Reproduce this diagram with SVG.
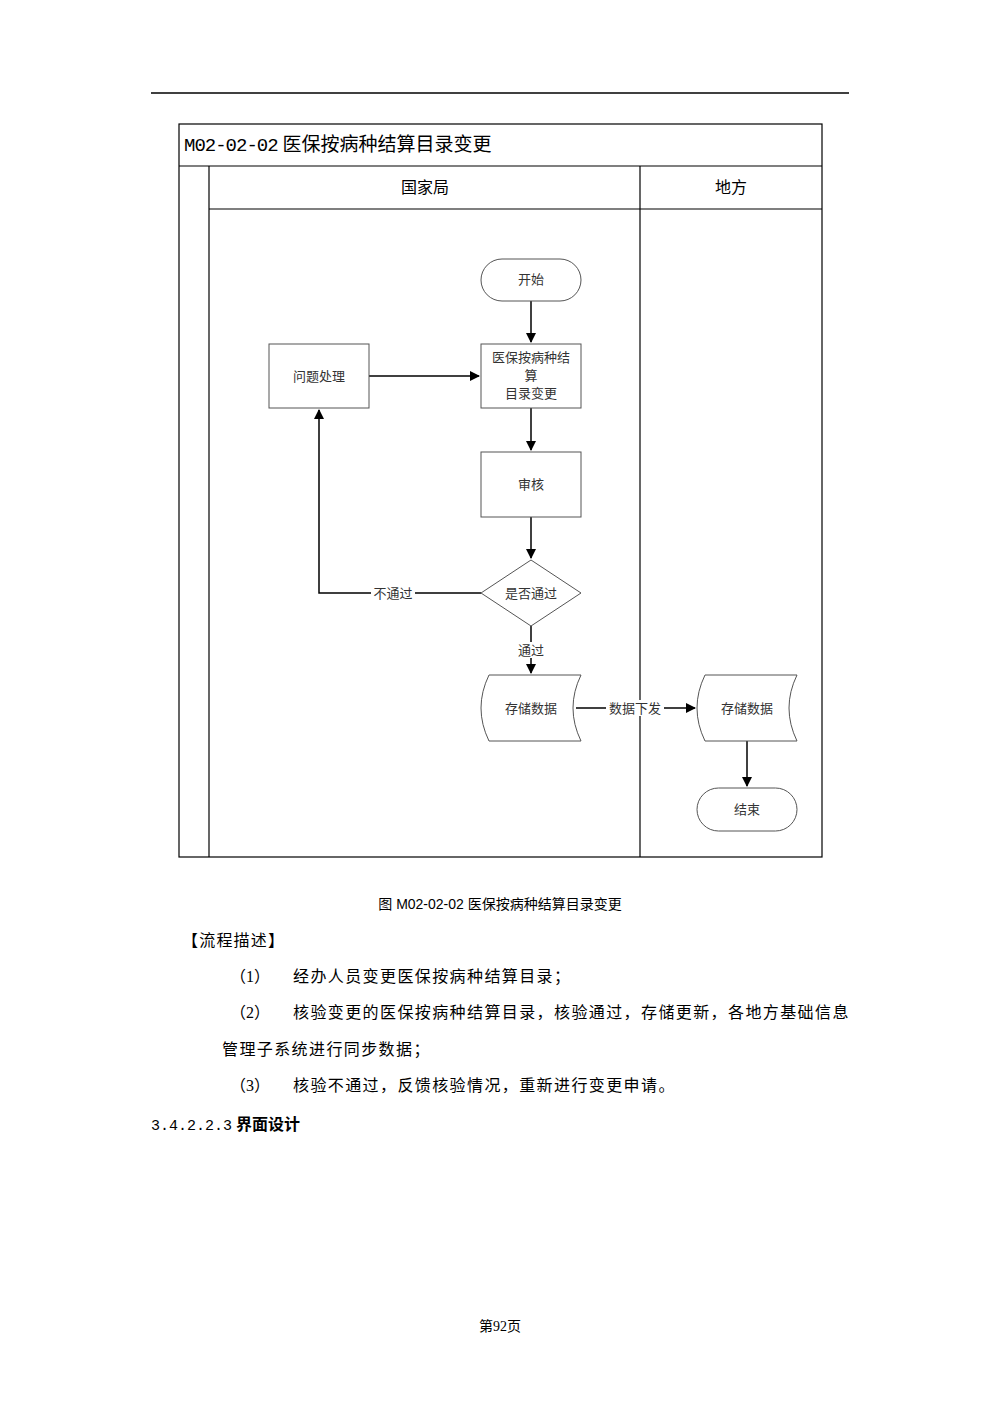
<svg xmlns="http://www.w3.org/2000/svg" width="1000" height="1415" viewBox="0 0 1000 1415">
<style>
.t{font-family:"Liberation Serif","Noto Sans CJK SC",serif;fill:#000}
.s{font-size:13px;fill:#333}
.n{fill:#fff;stroke:#555;stroke-width:1}
.c{stroke:#000;stroke-width:1.5;fill:none}
.f{stroke:#000;stroke-width:1.2;fill:none}
</style>
<defs><marker id="a" markerWidth="10" markerHeight="10" refX="9" refY="5" orient="auto" markerUnits="userSpaceOnUse"><path d="M0,0 L10,5 L0,10 z" fill="#000"/></marker></defs>
<rect width="1000" height="1415" fill="#fff"/>
<line x1="151" y1="93" x2="849" y2="93" stroke="#000" stroke-width="1.5"/>
<g id="frame">
<rect class="f" x="179" y="124" width="643" height="733"/>
<line class="f" x1="179" y1="166" x2="822" y2="166"/>
<line class="f" x1="209" y1="166" x2="209" y2="857"/>
<line class="f" x1="209" y1="209" x2="822" y2="209"/>
<line class="f" x1="640" y1="166" x2="640" y2="857"/>
<text class="t" x="184" y="151" font-size="19"><tspan font-family="Liberation Mono,monospace" letter-spacing="-1">M02-02-02</tspan> 医保按病种结算目录变更</text>
<text class="t" x="425" y="193" font-size="16" text-anchor="middle">国家局</text>
<text class="t" x="731" y="193" font-size="16" text-anchor="middle">地方</text>
</g>
<g id="connectors">
<line class="c" x1="531" y1="301" x2="531" y2="342" marker-end="url(#a)"/>
<line class="c" x1="369" y1="376" x2="479" y2="376" marker-end="url(#a)"/>
<line class="c" x1="531" y1="408" x2="531" y2="450" marker-end="url(#a)"/>
<line class="c" x1="531" y1="517" x2="531" y2="558" marker-end="url(#a)"/>
<polyline class="c" points="481,593 319,593 319,410" marker-end="url(#a)"/>
<rect x="371" y="585" width="44" height="16" fill="#fff"/>
<text class="t s" x="393" y="598" text-anchor="middle">不通过</text>
<line class="c" x1="531" y1="626" x2="531" y2="673" marker-end="url(#a)"/>
<rect x="514" y="642" width="34" height="16" fill="#fff"/>
<text class="t s" x="531" y="655" text-anchor="middle">通过</text>
<line class="c" x1="576" y1="708" x2="695" y2="708" marker-end="url(#a)"/>
<rect x="606" y="700" width="58" height="16" fill="#fff"/>
<text class="t s" x="635" y="713" text-anchor="middle">数据下发</text>
<line class="c" x1="747" y1="741" x2="747" y2="786" marker-end="url(#a)"/>
</g>
<g id="start"><rect class="n" x="481" y="259" width="100" height="42" rx="21"/><text class="t s" x="531" y="284" text-anchor="middle">开始</text></g>
<g id="issue"><rect class="n" x="269" y="344" width="100" height="64"/><text class="t s" x="319" y="381" text-anchor="middle">问题处理</text></g>
<g id="change"><rect class="n" x="481" y="344" width="100" height="64"/><text class="t s" x="531" y="362" text-anchor="middle">医保按病种结</text><text class="t s" x="531" y="380" text-anchor="middle">算</text><text class="t s" x="531" y="398" text-anchor="middle">目录变更</text></g>
<g id="review"><rect class="n" x="481" y="452" width="100" height="65"/><text class="t s" x="531" y="489" text-anchor="middle">审核</text></g>
<g id="decision"><polygon class="n" points="531,560 581,593 531,626 481,593"/><text class="t s" x="531" y="598" text-anchor="middle">是否通过</text></g>
<g id="store1"><path class="n" d="M489,675 L581,675 Q565,708 581,741 L489,741 Q473,708 489,675 z"/><text class="t s" x="531" y="713" text-anchor="middle">存储数据</text></g>
<g id="store2"><path class="n" d="M705,675 L797,675 Q781,708 797,741 L705,741 Q689,708 705,675 z"/><text class="t s" x="747" y="713" text-anchor="middle">存储数据</text></g>
<g id="end"><rect class="n" x="697" y="788" width="100" height="43" rx="21.5"/><text class="t s" x="747" y="814" text-anchor="middle">结束</text></g>
<g id="body" class="t" font-size="16">
<text x="500" y="909" font-size="14" text-anchor="middle" font-family="Liberation Sans,Noto Sans CJK SC,sans-serif">图 M02-02-02 医保按病种结算目录变更</text>
<text x="182" y="946" letter-spacing="1.2">【流程描述】</text>
<text x="230" y="982">（1）</text><text x="293" y="982" letter-spacing="1.4">经办人员变更医保按病种结算目录；</text>
<text x="230" y="1018">（2）</text><text x="293" y="1018" letter-spacing="1.4">核验变更的医保按病种结算目录，核验通过，存储更新，各地方基础信息</text>
<text x="222" y="1055" letter-spacing="1.4">管理子系统进行同步数据；</text>
<text x="230" y="1091">（3）</text><text x="293" y="1091" letter-spacing="1.4">核验不通过，反馈核验情况，重新进行变更申请。</text>
<text x="151" y="1130"><tspan font-family="Liberation Mono,monospace" font-size="15">3.4.2.2.3</tspan> <tspan font-weight="bold">界面设计</tspan></text>
<text x="500" y="1331" font-size="14" text-anchor="middle">第92页</text>
</g>
</svg>
